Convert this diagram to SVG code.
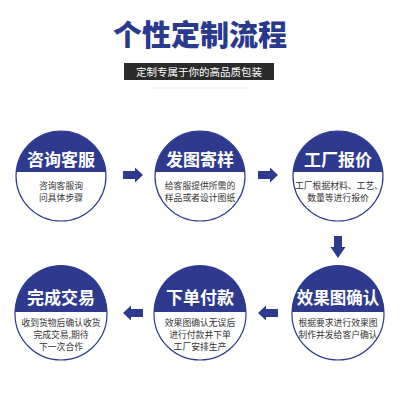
<svg xmlns="http://www.w3.org/2000/svg" width="400" height="400" viewBox="0 0 400 400">
<defs>
<style>
.ttl{font-family:"Noto Sans CJK SC","Noto Sans",sans-serif;font-weight:900;fill:#28398e;font-size:29px;text-anchor:middle}
.sub{font-family:"Noto Sans CJK SC",sans-serif;fill:#ffffff;font-size:10.5px;text-anchor:middle}
.ring{fill:#ffffff;stroke:#2e3a8e;stroke-width:1.2}
.cap{fill:#2e3a8e}
.nt{font-family:"Noto Sans CJK SC",sans-serif;font-weight:700;fill:#ffffff;font-size:17px;text-anchor:middle}
.d{font-family:"Noto Sans CJK SC",sans-serif;fill:#333333;font-size:8.8px;text-anchor:middle}
.arr{fill:#2e3a8e}
</style>
</defs>
<rect width="400" height="400" fill="#ffffff"/>
<text class="ttl" x="200" y="46">个性定制流程</text>
<rect x="124" y="63" width="150" height="17" fill="#2b2b2b"/>
<text class="sub" x="199" y="75.5">定制专属于你的高品质包装</text>
<line x1="150" y1="88" x2="250" y2="88" stroke="#eeeeee" stroke-width="1"/>

<g id="n1">
<circle class="ring" cx="61" cy="176" r="45"/>
<path class="cap" d="M16.18,172 A45,45 0 0 1 105.82,172 Z"/>
<text class="nt" x="61" y="165.5">咨询客服</text>
<text class="d" x="61" y="188.5">咨询客服询</text>
<text class="d" x="61" y="200.5">问具体步骤</text>
</g>
<g id="n2">
<circle class="ring" cx="200" cy="176" r="45"/>
<path class="cap" d="M155.18,172 A45,45 0 0 1 244.82,172 Z"/>
<text class="nt" x="200" y="165.5">发图寄样</text>
<text class="d" x="200" y="188.5">给客服提供所需的</text>
<text class="d" x="200" y="200.5">样品或者设计图纸</text>
</g>
<g id="n3">
<circle class="ring" cx="338" cy="176" r="45"/>
<path class="cap" d="M293.18,172 A45,45 0 0 1 382.82,172 Z"/>
<text class="nt" x="338" y="165.5">工厂报价</text>
<text class="d" x="339" y="188.5">工厂根据材料、工艺、</text>
<text class="d" x="338" y="200.5">数量等进行报价</text>
</g>
<g id="n4">
<circle class="ring" cx="338" cy="314" r="46"/>
<path class="cap" d="M292.01,312 A46,46 0 1 1 383.99,312 Z"/>
<text class="nt" x="338" y="304" style="font-size:16.5px">效果图确认</text>
<text class="d" x="338" y="326">根据要求进行效果图</text>
<text class="d" x="338" y="338">制作并发给客户确认</text>
</g>
<g id="n5">
<circle class="ring" cx="200" cy="314" r="46"/>
<path class="cap" d="M154.01,312 A46,46 0 1 1 245.99,312 Z"/>
<text class="nt" x="200" y="304">下单付款</text>
<text class="d" x="200" y="326">效果图确认无误后</text>
<text class="d" x="200" y="338">进行付款并下单</text>
<text class="d" x="200" y="350">工厂安排生产</text>
</g>
<g id="n6">
<circle class="ring" cx="61" cy="314" r="46"/>
<path class="cap" d="M15.01,312 A46,46 0 1 1 106.99,312 Z"/>
<text class="nt" x="61" y="304">完成交易</text>
<text class="d" x="61" y="326">收到货物后确认收货</text>
<text class="d" x="61" y="338">完成交易,期待</text>
<text class="d" x="61" y="350">下一次合作</text>
</g>

<g id="connectors">
<path class="arr" d="M123,171 H135 V167.5 L143,175 L135,182.5 V179 H123 Z"/>
<path class="arr" d="M258,171 H270 V167.5 L278,175 L270,182.5 V179 H258 Z"/>
<path class="arr" d="M334,236 H342 V247 H345.5 L338,258 L330.5,247 H334 Z"/>
<path class="arr" d="M278,309 H266 V305.5 L258,313 L266,320.5 V317 H278 Z"/>
<path class="arr" d="M143,309 H131 V305.5 L123,313 L131,320.5 V317 H143 Z"/>
</g>
</svg>
